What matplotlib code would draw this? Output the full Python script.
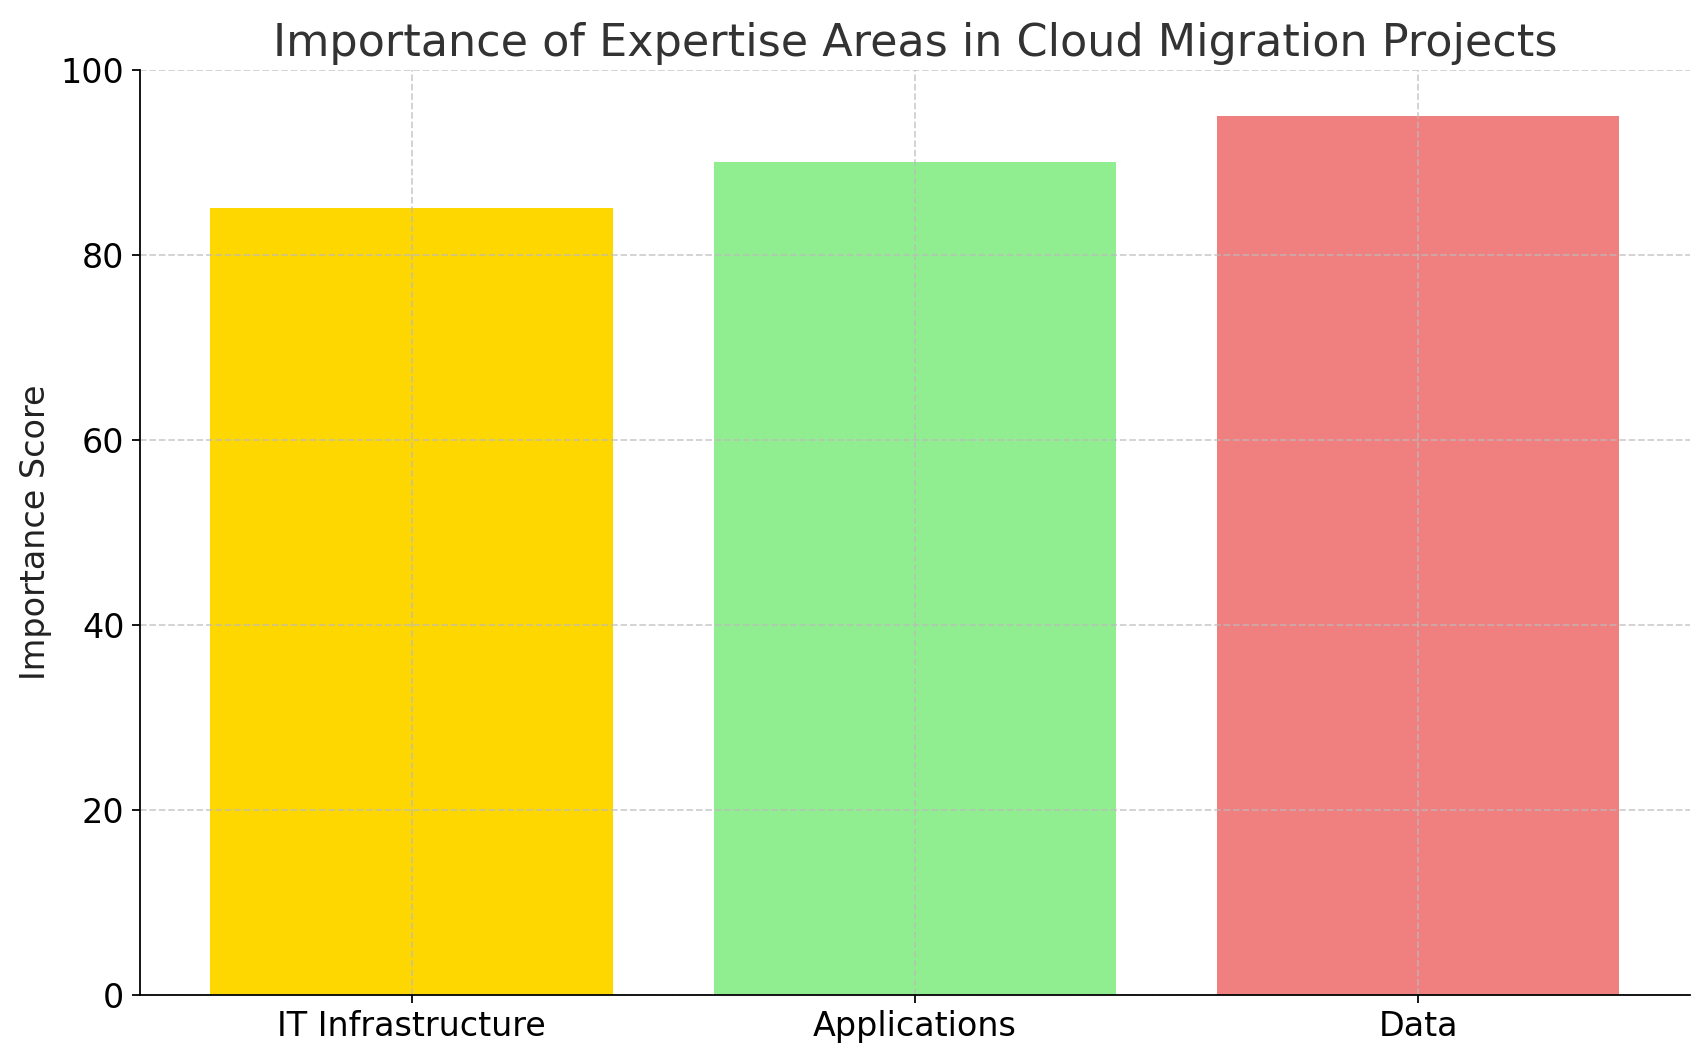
import matplotlib
matplotlib.use('Agg')
import matplotlib.pyplot as plt

# data
areas = ['IT Infrastructure', 'Applications', 'Data']
scores = [85, 90, 95]
colors = ['gold', 'lightgreen', 'lightcoral']

plt.rcParams['font.family'] = ['DejaVu Sans']

fig, ax = plt.subplots(figsize=(1707 / 160, 1057 / 160), dpi=160)
ax.bar(areas, scores, color=colors, width=0.8, zorder=0.4)

ax.set_title('Importance of Expertise Areas in Cloud Migration Projects',
             fontsize=20, color='#333333')
ax.set_ylabel('Importance Score', fontsize=15, color='#222222')
ax.set_ylim(0, 100)
ax.tick_params(axis='both', labelsize=15)

# grid drawn over the bars but under the spines
ax.set_axisbelow(True)
ax.grid(True, linestyle='--', color='#bbbbbb', alpha=0.7, linewidth=0.8)

ax.spines['top'].set_visible(False)
ax.spines['right'].set_visible(False)

plt.subplots_adjust(left=0.082, right=0.99, top=0.934, bottom=0.059)
plt.savefig('out.png', dpi=160)
